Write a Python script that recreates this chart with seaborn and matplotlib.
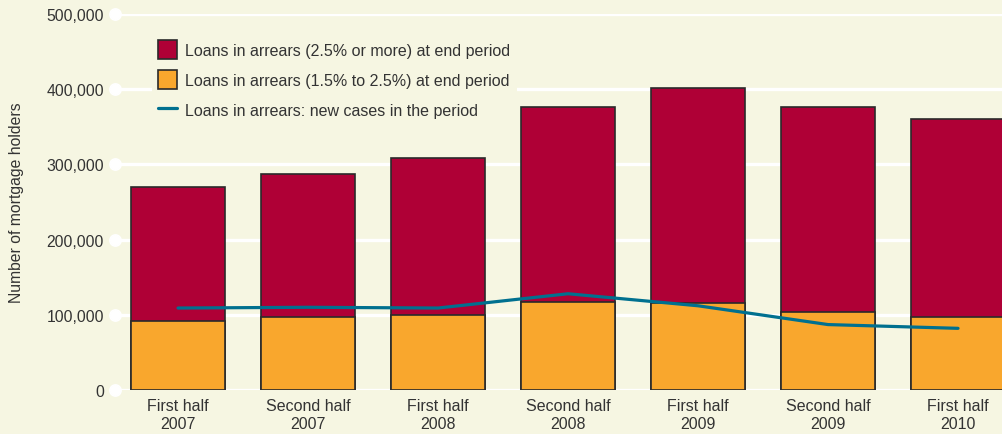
import pandas as pd
import seaborn as sns
import matplotlib.pyplot as plt
from matplotlib.patches import Patch
from matplotlib.lines import Line2D

periods = ['First half\n2007', 'Second half\n2007', 'First half\n2008', 'Second half\n2008',
           'First half\n2009', 'Second half\n2009', 'First half\n2010']
arrears_mid = [92000, 97000, 100000, 117000, 116000, 104000, 97000]      # 1.5% to 2.5%
arrears_high = [178000, 190000, 208000, 259000, 286000, 272000, 263000]  # 2.5% or more
new_cases = [109000, 110000, 109000, 128000, 112000, 87000, 82000]

bg = '#f6f6e2'
red = '#af0036'
orange = '#f9a72d'
teal = '#00708f'
txt = '#333333'

df = pd.DataFrame({'period': periods, 'mid': arrears_mid, 'high': arrears_high, 'new': new_cases})
df['top'] = df['mid'] + df['high']

sns.set_theme(style='white')
plt.rcParams['font.family'] = ['Liberation Sans', 'DejaVu Sans']

fig = plt.figure(figsize=(10.03, 4.35), dpi=100, facecolor=bg)
ax = fig.add_axes([115 / 1003, 1 - 391 / 435, 1 - 115 / 1003, (391 - 15) / 435])
ax.set_facecolor(bg)

# stacked bars: total (red) first, then the lower part (orange) over it
sns.barplot(data=df, x='period', y='top', color=red, saturation=1, width=0.72,
            edgecolor='#2a2a2a', linewidth=1.2, ax=ax, zorder=2)
sns.barplot(data=df, x='period', y='mid', color=orange, saturation=1, width=0.72,
            edgecolor='#2a2a2a', linewidth=1.2, ax=ax, zorder=3)
sns.lineplot(data=df, x='period', y='new', sort=False, color=teal, linewidth=2.3, ax=ax, zorder=4)

ax.set_ylim(0, 500000)
ax.set_xlim(-0.485, 6.346)
ax.set_yticks(range(0, 500001, 100000))
ax.set_yticklabels([f'{v:,}' for v in range(0, 500001, 100000)])
ax.yaxis.grid(True, color='white', linewidth=2.4, zorder=0)
ax.set_axisbelow(True)
for s in ax.spines.values():
    s.set_visible(False)

ax.tick_params(axis='y', left=True, length=0, pad=8, labelsize=11.3, labelcolor=txt)
for t in ax.yaxis.get_major_ticks():
    t.tick1line.set_marker('o')
    t.tick1line.set_markersize(8)
    t.tick1line.set_color('white')
    t.tick1line.set_markeredgecolor('white')
    t.tick1line.set_markerfacecolor('white')
    t.tick1line.set_clip_on(False)
ax.tick_params(axis='x', bottom=False, pad=0, labelsize=11.5, labelcolor=txt)
for lbl in ax.get_xticklabels():
    lbl.set_linespacing(1.2)

ax.set_xlabel('')
ax.set_ylabel('Number of mortgage holders', fontsize=11.3, color=txt, labelpad=16)

handles = [Patch(facecolor=red, edgecolor='#2a2a2a', linewidth=1.2),
           Patch(facecolor=orange, edgecolor='#2a2a2a', linewidth=1.2),
           Line2D([], [], color=teal, linewidth=2.3)]
labels = ['Loans in arrears (2.5% or more) at end period',
          'Loans in arrears (1.5% to 2.5%) at end period',
          'Loans in arrears: new cases in the period']
leg = ax.legend(handles, labels, loc='upper left', bbox_to_anchor=(0.0417, 0.947),
                fontsize=11.5, frameon=True, facecolor=bg, edgecolor='none', framealpha=1,
                handlelength=1.19, handleheight=1.45, labelspacing=0.69, handletextpad=0.5,
                borderaxespad=0, fancybox=False)
for t in leg.get_texts():
    t.set_color(txt)
leg.set_zorder(5)

fig.savefig('out.png', dpi=100, facecolor=bg)
